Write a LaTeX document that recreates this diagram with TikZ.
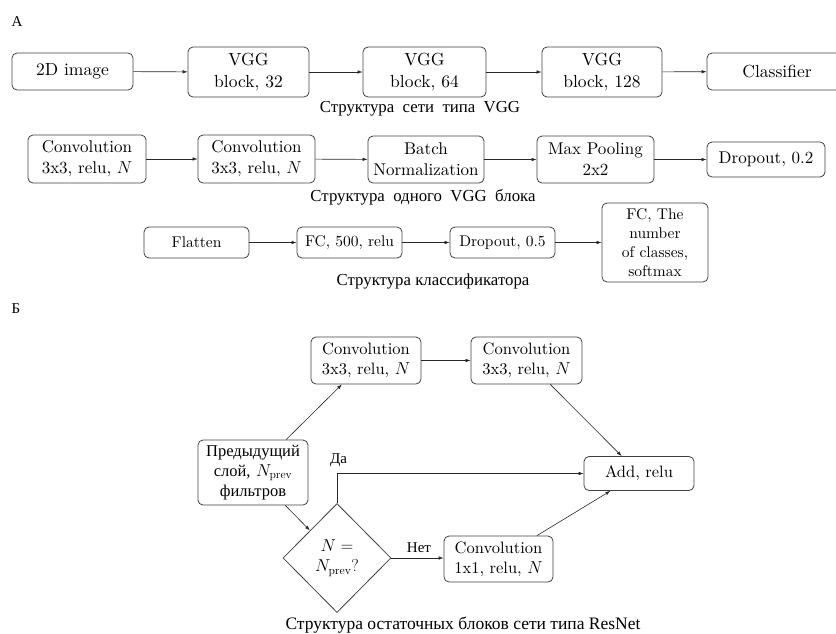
\documentclass[tikz,border=0pt]{standalone}
\usepackage{fontspec}
\setmainfont{lmroman10-regular.otf}[ItalicFont=lmroman10-italic.otf, BoldFont=lmroman10-bold.otf]
\newfontfamily\capfont{Liberation Serif}
\usetikzlibrary{shapes.geometric,arrows.meta}
\begin{document}
\begin{tikzpicture}[x=1pt,y=-1pt,
  blk/.style={draw=black!75, line width=0.8pt, rounded corners=5pt, align=center, inner sep=0pt},
  fA/.style={font=\fontsize{17.5}{22}\selectfont},
  fB/.style={font=\fontsize{17}{21}\selectfont},
  fC/.style={font=\fontsize{15.5}{19}\selectfont},
  fD/.style={font=\fontsize{16.5}{20}\selectfont},
  captxt/.style={font=\capfont\fontsize{16.8}{19}\selectfont, inner sep=0pt},
  arr/.style={draw=black!85, line width=0.6pt, -{Latex[length=5pt,width=3.5pt]}},
  lbl/.style={font=\capfont\fontsize{15}{18}\selectfont, inner sep=0pt}]
\useasboundingbox (0,0) rectangle (836,633);
% labels
\node[lbl] (la) at (17,22) {А};
\node[lbl] (lb) at (16,309) {Б};
% row 1
\node[blk,fA,minimum width=121,minimum height=37] (img) at (72.5,71.5) {2D image};
\node[blk,fA,minimum width=121,minimum height=50] (v32) at (248.5,72) {VGG\\block, 32};
\node[blk,fA,minimum width=123,minimum height=50] (v64) at (424.5,72) {VGG\\block, 64};
\node[blk,fA,minimum width=120,minimum height=50] (v128) at (602,72) {VGG\\block, 128};
\node[blk,fA,minimum width=140,minimum height=37] (cls) at (777,71.5) {Classifier};
\draw[arr] (img) -- (v32);
\draw[arr] (v32) -- (v64);
\draw[arr] (v64) -- (v128);
\draw[arr] (v128) -- (cls);
\node[captxt] (cap1) at (420,109) {Структура\ \ сети\ \ типа\ \ VGG};
% row 2
\node[blk,fB,minimum width=118,minimum height=48] (c1) at (87,159) {Convolution\\3x3, relu, $N$};
\node[blk,fB,minimum width=117,minimum height=48] (c2) at (256.5,159) {Convolution\\3x3, relu, $N$};
\node[blk,fB,minimum width=116,minimum height=47] (bn) at (426,159.5) {Batch\\Normalization};
\node[blk,fB,minimum width=117,minimum height=47] (mp) at (595.5,159.5) {Max Pooling\\2x2};
\node[blk,fB,minimum width=118,minimum height=35] (do2) at (766,159.5) {Dropout, 0.2};
\draw[arr] (c1) -- (c2);
\draw[arr] (c2) -- (bn);
\draw[arr] (bn) -- (mp);
\draw[arr] (mp) -- (do2);
\node[captxt] (cap2) at (423,197) {Структура\ \ одного\ \ VGG\ \ блока};
% row 3
\node[blk,fC,minimum width=105,minimum height=31] (fl) at (196.5,242.5) {Flatten};
\node[blk,fC,minimum width=105,minimum height=31] (fc) at (349.5,242.5) {FC, 500, relu};
\node[blk,fC,minimum width=105,minimum height=31] (do5) at (502.5,242.5) {Dropout, 0.5};
\node[blk,fC,minimum width=106,minimum height=79] (fcc) at (655,242.5) {FC, The\\number\\of classes,\\softmax};
\draw[arr] (fl) -- (fc);
\draw[arr] (fc) -- (do5);
\draw[arr] (do5) -- (fcc);
\node[captxt] (cap3) at (433,281) {Структура классификатора};
% section B
\node[blk,fD,minimum width=110,minimum height=65] (pr) at (253,472.5) {{\capfont Предыдущий}\\{\capfont слой,} $N_{\mathrm{prev}}$\\{\capfont фильтров}};
\node[blk,fD,minimum width=110,minimum height=47] (ct1) at (366,360.5) {Convolution\\3x3, relu, $N$};
\node[blk,fD,minimum width=111,minimum height=47] (ct2) at (526.5,360.5) {Convolution\\3x3, relu, $N$};
\node[blk,fD,minimum width=110,minimum height=34] (add) at (639,473.5) {Add, relu};
\node[draw=black!75, line width=0.8pt, diamond, minimum width=108, minimum height=109, inner sep=0pt, align=center, fD] (dia) at (337,558) {$N=$\\$N_{\mathrm{prev}}?$};
\node[blk,fD,minimum width=109,minimum height=46] (c11) at (498.5,559) {Convolution\\1x1, relu, $N$};
\draw[arr] (pr) -- (ct1);
\draw[arr] (ct1) -- (ct2);
\draw[arr] (ct2) -- (add);
\draw[arr] (pr) -- (dia);
\draw[arr] (dia.north) |- (add.west);
\draw[arr] (dia.east) -- (c11.west |- dia.east);
\draw[arr] (c11) -- (add);
\node[lbl] (da) at (338.5,460) {Да};
\node[lbl] (net) at (419,548) {Нет};
\node[captxt,font=\capfont\fontsize{17.5}{19}\selectfont] (cap4) at (463,625) {Структура остаточных блоков сети типа ResNet};
\end{tikzpicture}
\end{document}
